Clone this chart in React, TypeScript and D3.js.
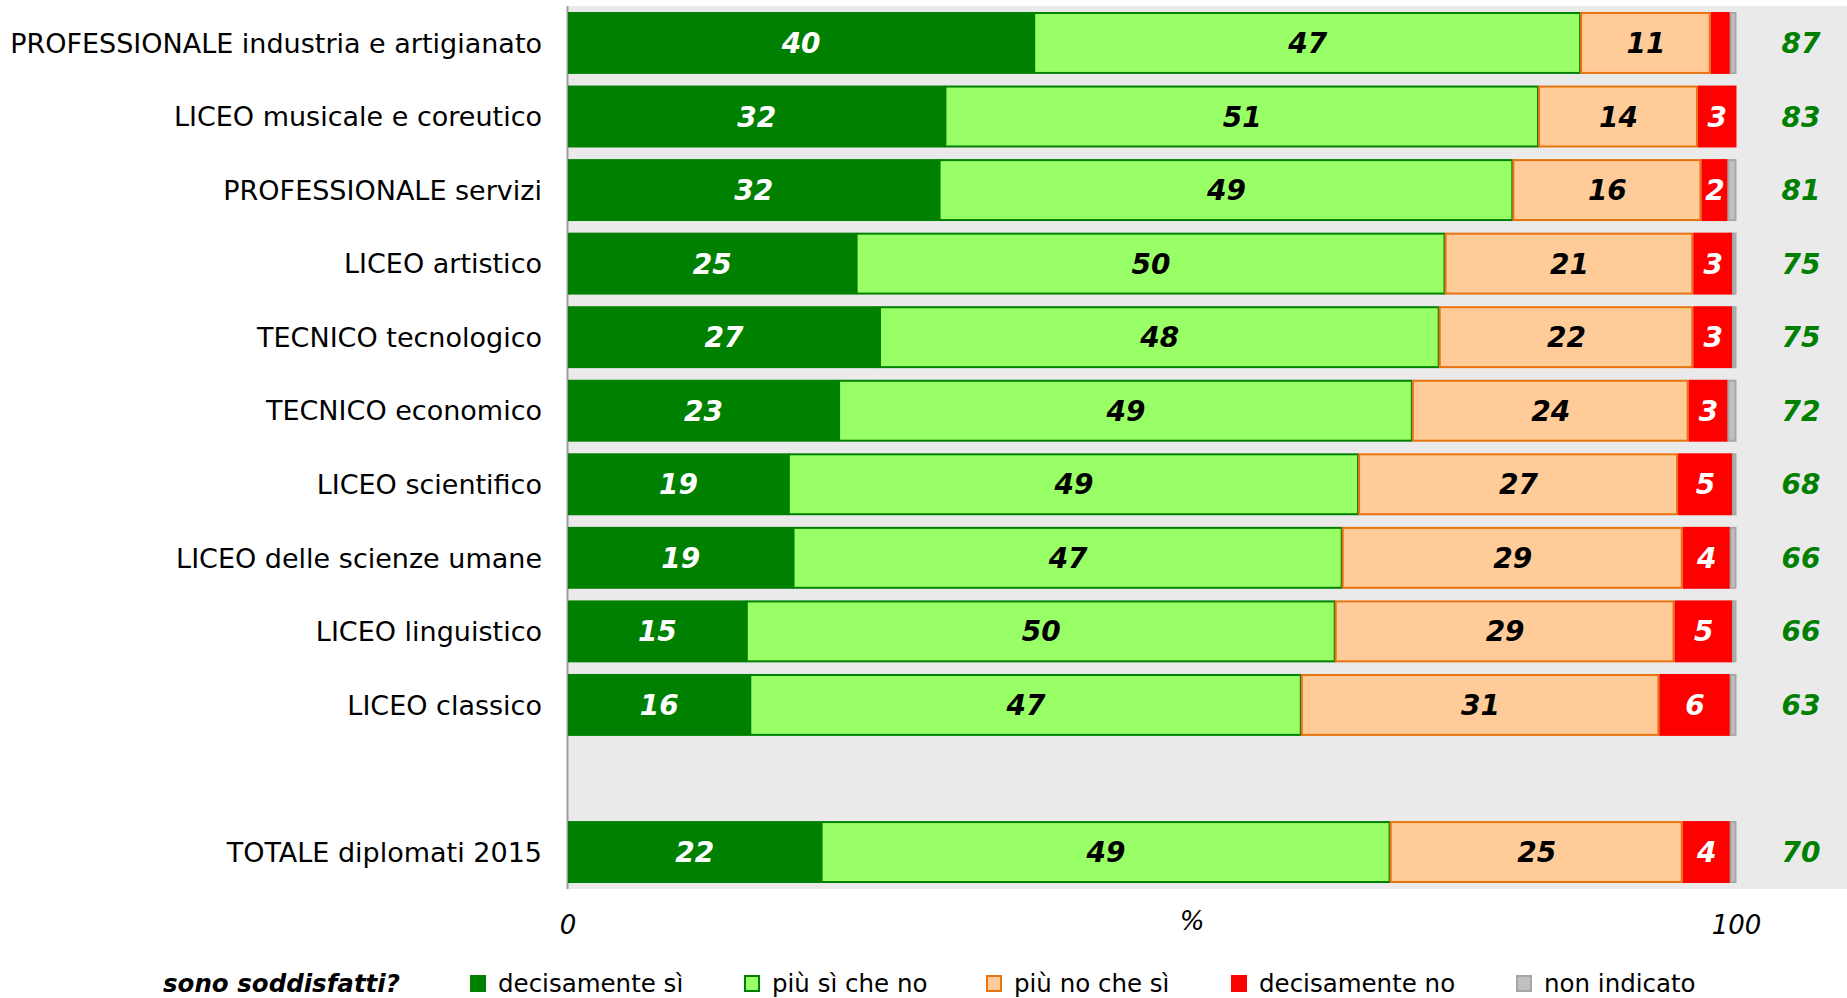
import React from 'react';
import * as d3 from 'd3';

const width = 1847;
const height = 998;
const margin = { top: 6, right: 0, bottom: 109, left: 568 };

const categories = [
  'PROFESSIONALE industria e artigianato',
  'LICEO musicale e coreutico',
  'PROFESSIONALE servizi',
  'LICEO artistico',
  'TECNICO tecnologico',
  'TECNICO economico',
  'LICEO scientifico',
  'LICEO delle scienze umane',
  'LICEO linguistico',
  'LICEO classico',
  'TOTALE diplomati 2015',
];

const decisamenteSi = [39.9, 32.3, 31.8, 24.7, 26.7, 23.2, 18.9, 19.3, 15.3, 15.6, 21.7];
const piuSiCheNo = [46.8, 50.8, 49.1, 50.4, 47.9, 49.1, 48.8, 47.0, 50.4, 47.2, 48.7];
const piuNoCheSi = [11.1, 13.6, 16.1, 21.2, 21.7, 23.6, 27.3, 29.1, 29.0, 30.6, 25.0];
const decisamenteNo = [1.7, 3.3, 2.3, 3.4, 3.4, 3.4, 4.7, 4.1, 5.0, 6.1, 4.1];
const nonIndicato = [0.5, 0, 0.7, 0.3, 0.3, 0.7, 0.3, 0.5, 0.3, 0.5, 0.5];
const soddisfatti = [87, 83, 81, 75, 75, 72, 68, 66, 66, 63, 70];

const xTicks = [0, 100];

const series = [
  { key: 'decisamente sì', values: decisamenteSi, fill: '#008000', stroke: 'none', text: '#ffffff' },
  { key: 'più sì che no', values: piuSiCheNo, fill: '#99ff66', stroke: '#008000', text: '#000000' },
  { key: 'più no che sì', values: piuNoCheSi, fill: '#ffcc99', stroke: '#e8730f', text: '#000000' },
  { key: 'decisamente no', values: decisamenteNo, fill: '#ff0000', stroke: 'none', text: '#ffffff' },
  { key: 'non indicato', values: nonIndicato, fill: '#c0c0c0', stroke: '#a6a6a6', text: '#000000' },
];

// legend item left edges
const legendX = [471, 745, 987, 1232, 1517];

const font = "'DejaVu Sans', Verdana, sans-serif";

export default function App() {
  // one empty slot between LICEO classico and TOTALE
  const domain = [...categories.slice(0, 10), '__gap__', categories[10]];

  const yScale = d3.scaleBand<string>()
    .domain(domain)
    .range([margin.top, height - margin.bottom])
    .paddingInner(0.158)
    .paddingOuter(0.0815);

  const xScale = d3.scaleLinear()
    .domain([0, 100])
    .range([margin.left, 1736.5]);

  const rows = categories.map((c, i) => {
    let acc = 0;
    const segs = series.map((s) => {
      const v = s.values[i];
      const seg = { ...s, v, x0: acc, x1: acc + v };
      acc += v;
      return seg;
    });
    return { c, i, segs };
  });

  const bw = yScale.bandwidth();
  const plotBottom = height - margin.bottom;

  return (
    <svg width={width} height={height} style={{ position: 'absolute', left: 0, top: 0 }} fontFamily={font}>
      <rect x={0} y={0} width={width} height={height} fill="#ffffff" />
      <rect x={margin.left} y={margin.top} width={width - margin.left} height={plotBottom - margin.top} fill="#eaeaea" />
      <line x1={margin.left - 0.5} x2={margin.left - 0.5} y1={margin.top} y2={plotBottom} stroke="#a0a0a0" strokeWidth={2} />

      {rows.map((r) => {
        const y = yScale(r.c)!;
        const cy = y + bw / 2;
        return (
          <g key={r.c}>
            <text x={542} y={cy} dy="0.36em" textAnchor="end" fontSize={27} fill="#000">{r.c}</text>
            {r.segs.map((s) => s.v > 0 && (
              <rect
                key={s.key}
                x={xScale(s.x0)}
                y={y + (s.stroke === 'none' ? 0 : 1)}
                width={xScale(s.x1) - xScale(s.x0) - (s.stroke === 'none' ? 0 : 1)}
                height={bw - (s.stroke === 'none' ? 0 : 2)}
                fill={s.fill}
                stroke={s.stroke}
                strokeWidth={s.stroke === 'none' ? 0 : 2}
              />
            ))}
            {r.segs.map((s) => s.v >= 2 && s.key !== 'non indicato' && (
              <text
                key={s.key + 't'}
                x={(xScale(s.x0) + xScale(s.x1)) / 2}
                y={cy}
                dy="0.36em"
                textAnchor="middle"
                fontSize={28}
                fontWeight="bold"
                fontStyle="italic"
                fill={s.text}
              >{Math.round(s.v)}</text>
            ))}
            <text x={1801} y={cy} dy="0.36em" textAnchor="middle" fontSize={28} fontWeight="bold" fontStyle="italic" fill="#008000">
              {soddisfatti[r.i]}
            </text>
          </g>
        );
      })}

      {xTicks.map((t) => (
        <text key={t} x={xScale(t)} y={925} dy="0.36em" textAnchor="middle" fontSize={26} fontStyle="italic" fill="#000">{t}</text>
      ))}
      <text x={1192} y={921} dy="0.36em" textAnchor="middle" fontSize={26} fontStyle="italic" fill="#000">%</text>

      <text x={163} y={983} dy="0.36em" fontSize={24.5} fontWeight="bold" fontStyle="italic" fill="#000">sono soddisfatti?</text>
      {series.map((s, i) => (
        <g key={s.key} transform={`translate(${legendX[i]},983)`}>
          <rect x={0} y={-7} width={14} height={15} fill={s.fill} stroke={s.stroke === 'none' ? s.fill : s.stroke} strokeWidth={2} />
          <text x={27} y={0} dy="0.36em" fontSize={24.5} fill="#000">{s.key}</text>
        </g>
      ))}
    </svg>
  );
}
